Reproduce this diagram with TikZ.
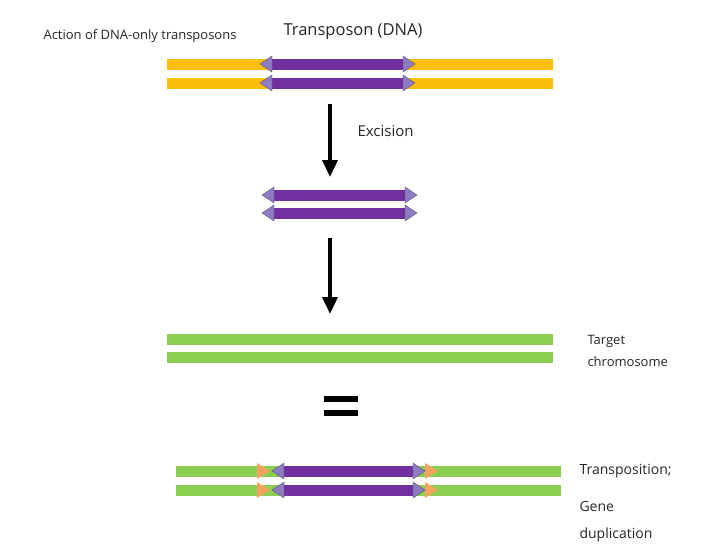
\documentclass[tikz,border=0pt]{standalone}
\usepackage{fontspec}
\setmainfont{Open Sans}
\usetikzlibrary{arrows.meta}
\definecolor{yel}{HTML}{FBBF0A}
\definecolor{pur}{HTML}{7030A0}
\definecolor{lpur}{HTML}{8E7CC3}
\definecolor{grn}{HTML}{8CCF50}
\definecolor{org}{HTML}{F4A460}
\tikzset{
 bar/.style={line width=11pt},
 lt/.style={font=\fontsize{14pt}{16pt}\selectfont, anchor=west, text=black!85},
 flow/.style={line width=3.5pt, -{Triangle[length=17pt,width=15pt]}}
}
\newcommand{\tl}[2]{\fill[lpur,draw=lpur!60!black,line width=0.3pt] (#1+12,#2-8) -- (#1,#2) -- (#1+12,#2+8) -- cycle;}
\newcommand{\tr}[2]{\fill[lpur,draw=lpur!60!black,line width=0.3pt] (#1-12,#2-8) -- (#1,#2) -- (#1-12,#2+8) -- cycle;}
\newcommand{\otr}[2]{\fill[org] (#1-13,#2-8) -- (#1,#2) -- (#1-13,#2+8) -- cycle;}
\begin{document}
\begin{tikzpicture}[x=1pt,y=-1pt]
\useasboundingbox (0,0) rectangle (728,546);
\node[lt,font=\fontsize{13pt}{15pt}\selectfont] (t1) at (40,36) {Action of DNA-only transposons};
\node[lt,font=\fontsize{16.5pt}{18pt}\selectfont] (t2) at (280,32) {Transposon (DNA)};
% top
\foreach \y in {64,83}{
 \draw[bar,yel] (167,\y) -- (553,\y);
 \draw[bar,pur] (270,\y) -- (404,\y);
 \tl{260}{\y} \tr{415}{\y}
}
\coordinate (a1) at (330,104); \coordinate (a2) at (330,177);
\draw[flow] (a1) -- (a2);
\node[lt,font=\fontsize{15pt}{17pt}\selectfont] (ex) at (354,131) {Excision};
% middle
\foreach \y in {195,213}{
 \draw[bar,pur] (272,\y) -- (406,\y);
 \tl{262}{\y} \tr{417}{\y}
}
\coordinate (b1) at (330,238); \coordinate (b2) at (330,314);
\draw[flow] (b1) -- (b2);
% target
\foreach \y in {339,357}{ \draw[bar,grn] (167,\y) -- (553,\y); }
\node[lt,font=\fontsize{13pt}{22pt}\selectfont,align=left] (tg) at (584,351) {Target\\chromosome};
% equals
\fill[black] (324,396) rectangle (358,402);
\fill[black] (324,410) rectangle (358,416);
% bottom
\foreach \y in {471,490}{
 \draw[bar,grn] (176,\y) -- (561,\y);
 \otr{270}{\y}
 \draw[bar,pur] (282,\y) -- (415,\y);
 \tl{272}{\y} \tr{425}{\y}
 \otr{438}{\y}
}
\node[lt] (tp) at (576,471) {Transposition;};
\node[lt,align=left,font=\fontsize{14pt}{27pt}\selectfont] (gd) at (576,522) {Gene\\duplication};
\end{tikzpicture}
\end{document}
